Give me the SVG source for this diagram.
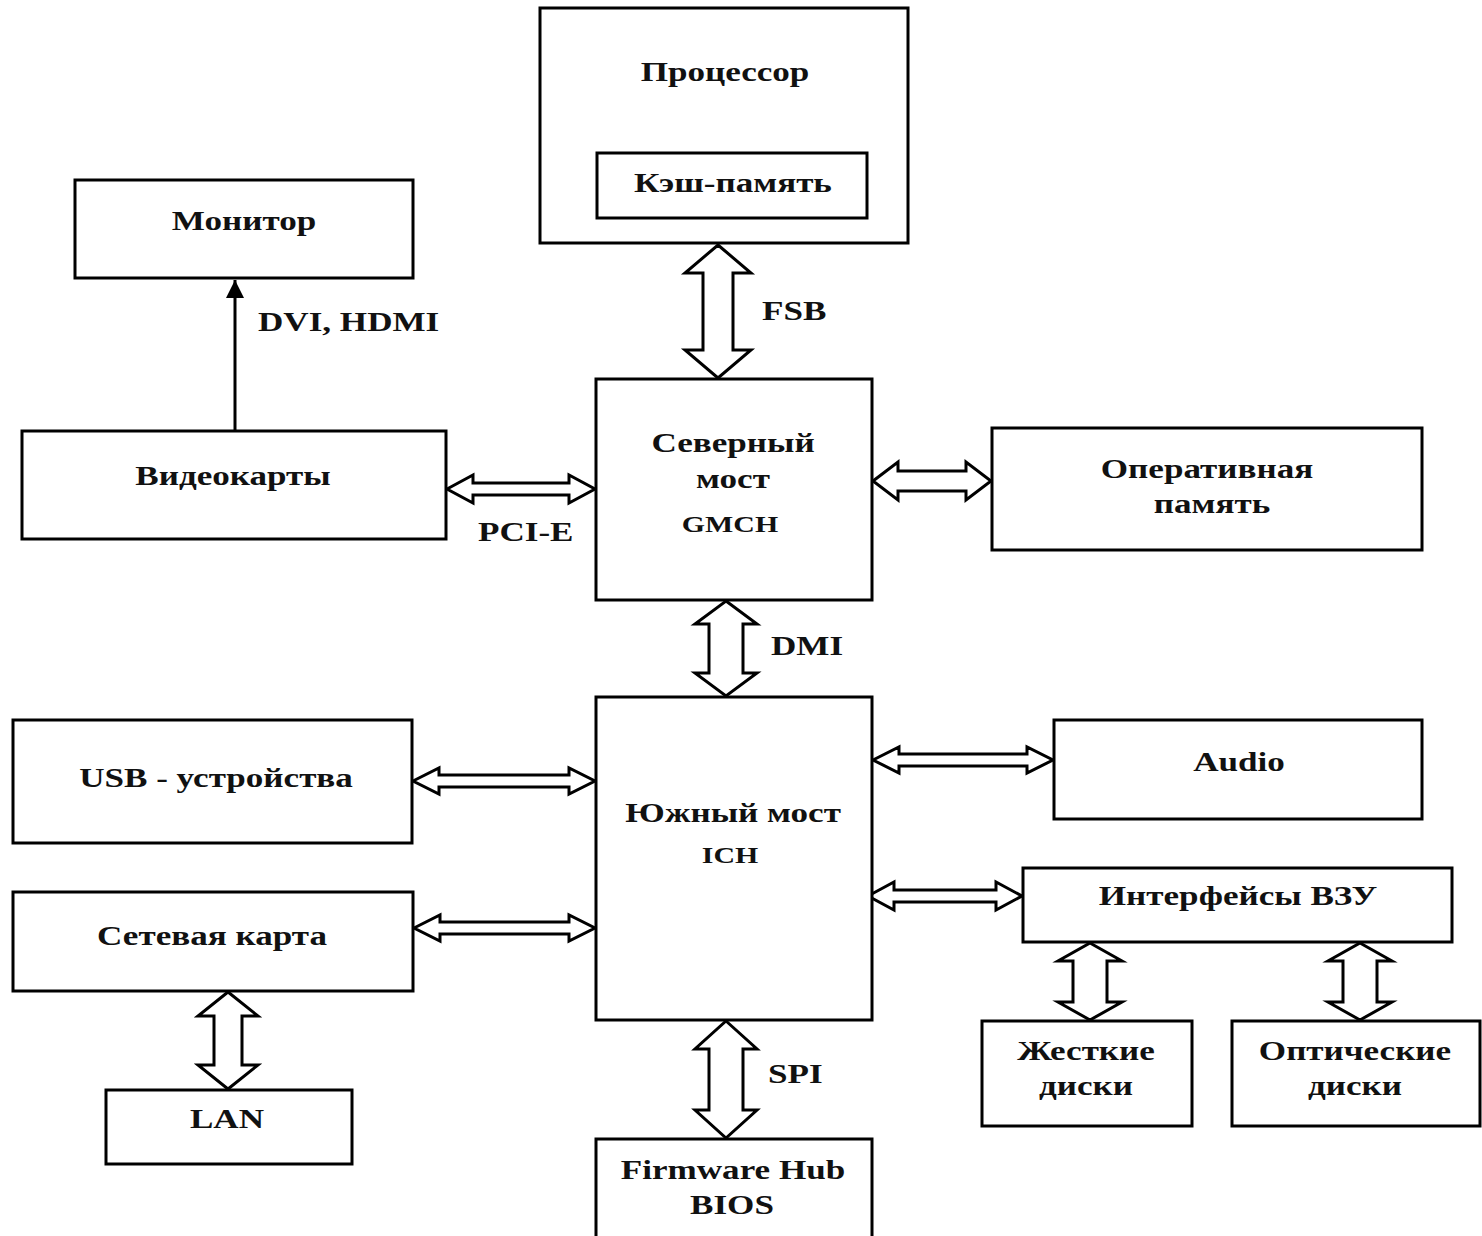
<svg xmlns="http://www.w3.org/2000/svg" width="1482" height="1236" viewBox="0 0 1482 1236">
<style>
.box{fill:#fff;stroke:#000;stroke-width:3}
.arr{fill:#fff;stroke:#000;stroke-width:3;stroke-linejoin:miter}
text{font-family:"Liberation Serif","Times New Roman",serif;font-weight:bold;font-size:27px;fill:#111;text-anchor:middle}
.l{text-anchor:start}
.s{font-size:23px}
</style>
<defs>
<marker id="ah" viewBox="0 0 10 10" refX="10" refY="5" markerWidth="6" markerHeight="6" orient="auto" markerUnits="strokeWidth">
<path d="M0,0 L10,5 L0,10 z" fill="#000"/>
</marker>
</defs>
<rect width="1482" height="1236" fill="#fff"/>
<g id="connectors">
<polygon class="arr" points="718,245 751,273 733,273 733,350 751,350 718,378 685,350 703,350 703,273 685,273"/>
<polygon class="arr" points="726,601 757,624 743,624 743,673 757,673 726,696 695,673 709,673 709,624 695,624"/>
<polygon class="arr" points="726,1021 757,1049 743,1049 743,1110 757,1110 726,1138 695,1110 709,1110 709,1049 695,1049"/>
<polygon class="arr" points="228,992 258,1016 242,1016 242,1065 258,1065 228,1089 198,1065 214,1065 214,1016 198,1016"/>
<polygon class="arr" points="1090,943 1122,961 1107,961 1107,1002 1122,1002 1090,1020 1058,1002 1073,1002 1073,961 1058,961"/>
<polygon class="arr" points="1360,943 1392,961 1377,961 1377,1002 1392,1002 1360,1020 1328,1002 1343,1002 1343,961 1328,961"/>
<polygon class="arr" points="447,489 473,475 473,483 569,483 569,475 595,489 569,503 569,495 473,495 473,503"/>
<polygon class="arr" points="873,481 898,462 898,471 966,471 966,462 991,481 966,500 966,491 898,491 898,500"/>
<polygon class="arr" points="413,781 439,768 439,775 569,775 569,768 595,781 569,794 569,787 439,787 439,794"/>
<polygon class="arr" points="414,928 440,915 440,922 569,922 569,915 595,928 569,941 569,934 440,934 440,941"/>
<polygon class="arr" points="873,760 899,747 899,754 1027,754 1027,747 1053,760 1027,773 1027,766 899,766 899,773"/>
<polygon class="arr" points="868,896 894,882 894,890 996,890 996,882 1022,896 996,910 996,902 894,902 894,910"/>
<line x1="235" y1="430" x2="235" y2="280" stroke="#000" stroke-width="3" marker-end="url(#ah)"/>
<text class="l" transform="matrix(1.3,0,0,1,258,331)">DVI, HDMI</text>
<text class="l" transform="matrix(1.3,0,0,1,762,320)">FSB</text>
<text class="l" transform="matrix(1.3,0,0,1,478,541)">PCI-E</text>
<text class="l" transform="matrix(1.3,0,0,1,771,655)">DMI</text>
<text class="l" transform="matrix(1.3,0,0,1,768,1083)">SPI</text>
</g>
<g id="cpu">
<rect class="box" x="540" y="8" width="368" height="235"/>
<text transform="matrix(1.3,0,0,1,725,81)">Процессор</text>
</g>
<g id="cache">
<rect class="box" x="597" y="153" width="270" height="65"/>
<text transform="matrix(1.3,0,0,1,733,192)">Кэш-память</text>
</g>
<g id="monitor">
<rect class="box" x="75" y="180" width="338" height="98"/>
<text transform="matrix(1.3,0,0,1,244,230)">Монитор</text>
</g>
<g id="video">
<rect class="box" x="22" y="431" width="424" height="108"/>
<text transform="matrix(1.3,0,0,1,233,485)">Видеокарты</text>
</g>
<g id="northbridge">
<rect class="box" x="596" y="379" width="276" height="221"/>
<text transform="matrix(1.3,0,0,1,733,452)">Северный</text>
<text transform="matrix(1.3,0,0,1,733,488)">мост</text>
<text class="s" transform="matrix(1.3,0,0,1,730,532)">GMCH</text>
</g>
<g id="ram">
<rect class="box" x="992" y="428" width="430" height="122"/>
<text transform="matrix(1.3,0,0,1,1207,478)">Оперативная</text>
<text transform="matrix(1.3,0,0,1,1212,513)">память</text>
</g>
<g id="southbridge">
<rect class="box" x="596" y="697" width="276" height="323"/>
<text transform="matrix(1.3,0,0,1,733,822)">Южный мост</text>
<text class="s" transform="matrix(1.3,0,0,1,730,863)">ICH</text>
</g>
<g id="usb">
<rect class="box" x="13" y="720" width="399" height="123"/>
<text transform="matrix(1.3,0,0,1,216,787)">USB - устройства</text>
</g>
<g id="nic">
<rect class="box" x="13" y="892" width="400" height="99"/>
<text transform="matrix(1.3,0,0,1,212,945)">Сетевая карта</text>
</g>
<g id="lan">
<rect class="box" x="106" y="1090" width="246" height="74"/>
<text transform="matrix(1.3,0,0,1,227,1128)">LAN</text>
</g>
<g id="audio">
<rect class="box" x="1054" y="720" width="368" height="99"/>
<text transform="matrix(1.3,0,0,1,1239,771)">Audio</text>
</g>
<g id="storage-if">
<rect class="box" x="1023" y="868" width="429" height="74"/>
<text transform="matrix(1.3,0,0,1,1238,905)">Интерфейсы ВЗУ</text>
</g>
<g id="hdd">
<rect class="box" x="982" y="1021" width="210" height="105"/>
<text transform="matrix(1.3,0,0,1,1086,1060)">Жесткие</text>
<text transform="matrix(1.3,0,0,1,1086,1095)">диски</text>
</g>
<g id="optical">
<rect class="box" x="1232" y="1021" width="248" height="105"/>
<text transform="matrix(1.3,0,0,1,1355,1060)">Оптические</text>
<text transform="matrix(1.3,0,0,1,1355,1095)">диски</text>
</g>
<g id="firmware">
<rect class="box" x="596" y="1139" width="276" height="110"/>
<text transform="matrix(1.3,0,0,1,733,1179)">Firmware Hub</text>
<text transform="matrix(1.3,0,0,1,732,1214)">BIOS</text>
</g>
</svg>
